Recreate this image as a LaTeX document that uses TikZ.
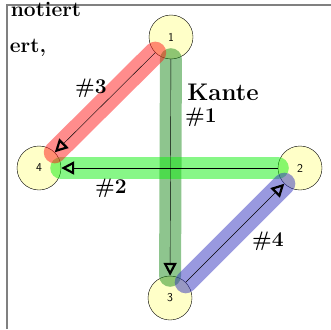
\documentclass[tikz,border=0pt]{standalone}
\usepackage{xcolor}
\usepackage{tikz}
\usetikzlibrary{arrows.meta}

\definecolor{vfill}{HTML}{FFFFC8}
\definecolor{markgreen}{HTML}{1E8C1E}
\definecolor{marklight}{HTML}{10F010}
\definecolor{markred}{HTML}{FF1A1A}
\definecolor{markblue}{HTML}{3333C0}
\definecolor{framegray}{HTML}{808080}

\begin{document}
\begin{tikzpicture}[
    x=1pt, y=-1pt,
    vertex/.style={circle, draw, fill=vfill, minimum size=44pt, inner sep=0pt, font=\sffamily\large},
    edge/.style={thin, -{Triangle[open, length=13pt, width=13pt, line width=2.2pt]}},
    marker/.style={line width=22pt, line cap=round, opacity=0.5},
    hand/.style={font=\bfseries\fontsize{21}{24}\selectfont}
]
\useasboundingbox (0,0) rectangle (331,329);

% frame of the drawing area
\draw[framegray, line width=2pt] (7,329) -- (7,5) -- (331,5);

\node[vertex] (n1) at (171, 37) {1};
\node[vertex] (n2) at (300,168) {2};
\node[vertex] (n3) at (170,298) {3};
\node[vertex] (n4) at (39, 168) {4};

% highlighter strokes
\draw[marker, markgreen] (n1) -- (n3);
\draw[marker, marklight] (n4) -- (n2);
\draw[marker, markred] (n1) -- (n4);
\draw[marker, markblue] (n3) -- (n2);

\draw[edge] (n1) -- (n3);
\draw[edge] (n2) -- (n4);
\draw[edge] (n1) -- (n4);
\draw[edge] (n3) -- (n2);

% handwritten notes
\node[hand] (t0) at (46,9) {notiert};
\node[hand] (t1) at (28,48) {ert,};
\node[hand] (k3) at (91,88) {\#3};
\node[hand, font=\bfseries\fontsize{24}{26}\selectfont] (ka) at (223,92) {Kante};
\node[hand] (k1) at (201,117) {\#1};
\node[hand] (k2) at (111,188) {\#2};
\node[hand] (k4) at (268,241) {\#4};

\end{tikzpicture}
\end{document}
